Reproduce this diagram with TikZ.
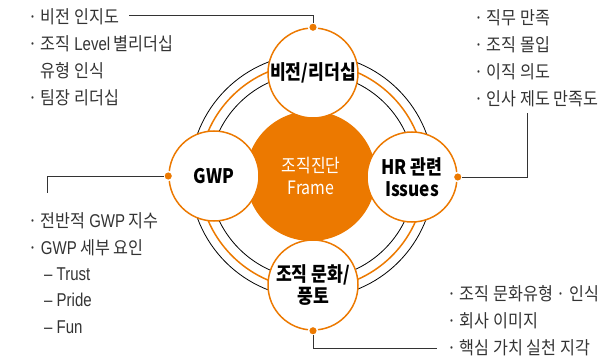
\documentclass[tikz,border=0pt]{standalone}
\usepackage{fontspec}
\setmainfont{Noto Sans CJK KR}[FakeStretch=0.9]
\newfontfamily\circfont{Noto Sans CJK KR}[FakeStretch=0.86]
\newfontfamily\latin{Liberation Sans}[FakeStretch=0.81,Scale=1.03]
\definecolor{diagorange}{RGB}{236,121,0}
\definecolor{listgray}{RGB}{51,51,51}
\tikzset{
  subcircle/.style={circle,draw=diagorange,line width=1.5pt,fill=white,minimum size=90pt,inner sep=0pt,align=center,font=\circfont\bfseries\fontsize{20}{22}\selectfont},
  linkdot/.style={circle,fill=diagorange,draw=white,line width=1.5pt,minimum size=9pt,inner sep=0pt,outer sep=0pt},
  itemlist/.style={anchor=north west,align=left,inner sep=0pt,text=listgray,font=\fontsize{18}{27}\selectfont},
  link/.style={draw=listgray,line width=0.8pt}
}
\begin{document}
\begin{tikzpicture}[x=1pt,y=-1pt]
\useasboundingbox (0,0) rectangle (604,363);
% rings
\draw[line width=0.8pt] (312,176) circle (122pt);
\draw[diagorange,line width=1.5pt] (312,176) circle (113pt);
\draw[line width=0.8pt] (312,176) circle (103pt);
%
\node[circle,fill=diagorange,minimum size=130pt,inner sep=0pt,text=white,align=center,font=\circfont\fontsize{18.5}{22.5}\selectfont] (frame) at (311,176) {조직진단\\Frame};
\node[subcircle] (vision) at (313,73) {비전/리더십};
\node[subcircle] (gwp) at (214,176) {GWP};
\node[subcircle] (hr) at (412,177) {HR 관련\\Issues};
\node[subcircle] (culture) at (313,285) {조직 문화/\\풍토};
%
\node[linkdot] (visiondot) at (vision.north) {};
\node[linkdot] (gwpdot) at (gwp.west) {};
\node[linkdot] (hrdot) at (hr.east) {};
\node[linkdot] (culturedot) at (culture.south) {};
% lists
\node[itemlist] (visionlist) at (28,8.8) {· 비전 인지도\\· 조직 {\latin Level} 별리더십\\\phantom{· }유형 인식\\· 팀장 리더십};
\node[itemlist] (hrlist) at (474,9.8) {· 직무 만족\\· 조직 몰입\\· 이직 의도\\· 인사 제도 만족도};
\node[itemlist,font=\fontsize{18}{26.3}\selectfont] (gwplist) at (28,212.8) {· 전반적 {\latin GWP} 지수\\· {\latin GWP} 세부 요인\\\hspace*{16pt}{\latin –~Trust}\\\hspace*{16pt}{\latin –~Pride}\\\hspace*{16pt}{\latin –~Fun}};
\node[itemlist] (culturelist) at (447,284.8) {· 조직 문화유형 · 인식\\· 회사 이미지\\· 핵심 가치 실천 지각};
%
\coordinate (visionend) at (129,15);
\coordinate (hrend) at (527,113);
\coordinate (gwpend) at (47,193);
\coordinate (cultureend) at (437,348);
\draw[link] (visionend) -| (visiondot.north);
\draw[link] (hrdot.east) -| (hrend);
\draw[link] (gwpdot.west) -| (gwpend);
\draw[link] (culturedot.south) |- (cultureend);

\end{tikzpicture}
\end{document}
